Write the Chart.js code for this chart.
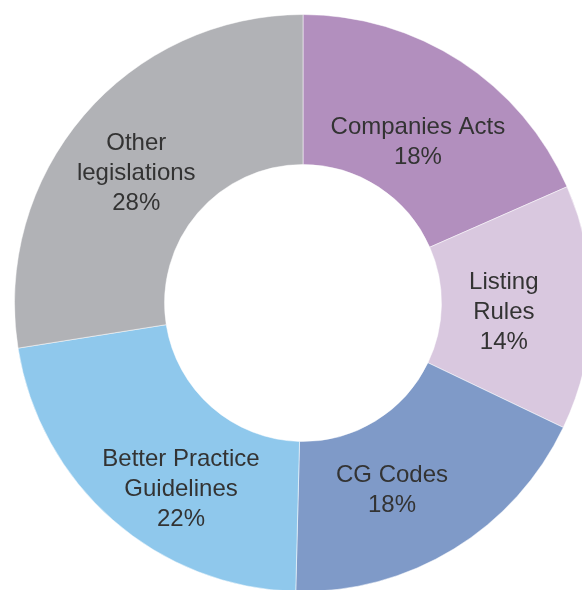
<!DOCTYPE html>
<html lang="en">
<head>
  <meta charset="UTF-8">
  <title>Sources of corporate governance rules</title>
  <script src="https://cdn.jsdelivr.net/npm/chart.js"></script>
  <style>
    html, body {
      margin: 0;
      padding: 0;
      background-color: #ffffff;
      overflow: hidden;
      width: 582px;
      height: 590px;
    }

    #chart {
      display: block;
      position: absolute;
      left: 0;
      top: 0;
    }
  </style>
</head>
<body>

  <canvas id="chart" width="606" height="606"></canvas>

  <script>
    // slice labels (each entry is the lines of text)
    var categories = [
      ['Companies Acts'],
      ['Listing', 'Rules'],
      ['CG Codes'],
      ['Better Practice', 'Guidelines'],
      ['Other', 'legislations']
    ];
    // slice sizes
    var shares = [18.4, 13.7, 18.3, 22.1, 27.5];
    // percentages printed in the slices
    var shareLabels = ['18%', '14%', '18%', '22%', '28%'];

    var colors = ['#b28fbe', '#d9c8df', '#7f9ac8', '#8fc8ec', '#b1b2b6'];

    // small pixel nudges so each label sits where the original put it
    var labelNudge = [[3, 9], [-4, 4], [-18, 11], [13, 30], [-11, 1]];

    var sliceLabels = {
      id: 'sliceLabels',
      afterDatasetsDraw: function(chart) {
        var ctx = chart.ctx;
        var arcs = chart.getDatasetMeta(0).data;
        var fontSize = 24;
        var lineGap = 30;
        ctx.save();
        ctx.fillStyle = '#333333';
        ctx.font = fontSize + 'px "Liberation Sans", Arial, sans-serif';
        ctx.textAlign = 'center';
        ctx.textBaseline = 'alphabetic';
        arcs.forEach(function(arc, i) {
          var p = arc.getProps(['x', 'y', 'startAngle', 'endAngle', 'outerRadius'], true);
          var mid = (p.startAngle + p.endAngle) / 2;
          var r = p.outerRadius * 0.71;
          var cx = p.x + Math.cos(mid) * r + labelNudge[i][0];
          var cy = p.y + Math.sin(mid) * r + labelNudge[i][1];
          var lines = categories[i].concat([shareLabels[i]]);
          lines.forEach(function(line, j) {
            var capMid = cy + (j - (lines.length - 1) / 2) * lineGap;
            ctx.fillText(line, cx, capMid + fontSize * 0.358);
          });
        });
        ctx.restore();
      }
    };

    new Chart(document.getElementById('chart'), {
      type: 'doughnut',
      data: {
        labels: categories.map(function(c) { return c.join(' '); }),
        datasets: [{
          data: shares,
          backgroundColor: colors,
          borderColor: 'rgba(255, 255, 255, 0.5)',
          borderWidth: 1,
          hoverOffset: 0
        }]
      },
      options: {
        responsive: false,
        animation: false,
        cutout: '48%',
        layout: { padding: 14 },
        plugins: {
          legend: { display: false },
          tooltip: { enabled: false }
        }
      },
      plugins: [sliceLabels]
    });
  </script>

</body>
</html>
